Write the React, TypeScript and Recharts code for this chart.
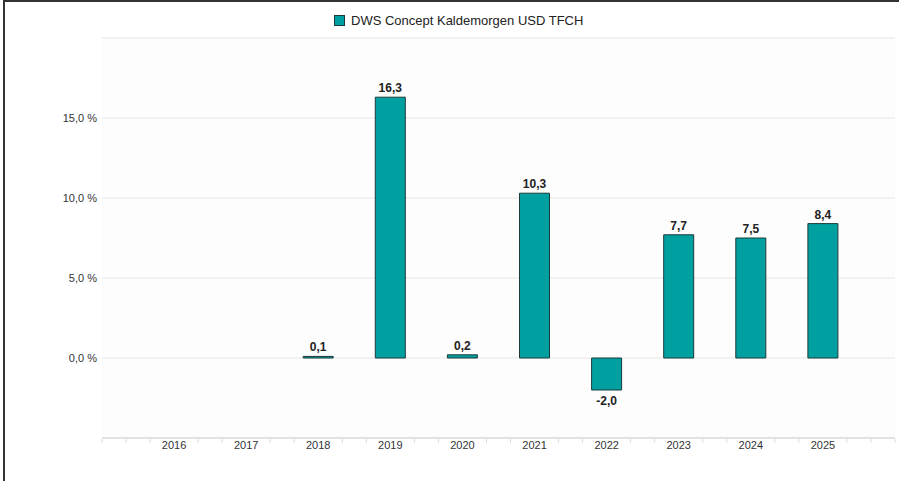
import { BarChart, Bar, XAxis, YAxis, CartesianGrid, Legend, LabelList } from "recharts";

const years = ["2016", "2017", "2018", "2019", "2020", "2021", "2022", "2023", "2024", "2025"];
const returns: (number | null)[] = [null, null, 0.1, 16.3, 0.2, 10.3, -2.0, 7.7, 7.5, 8.4];
const yTicks = [-5, 0, 5, 10, 15, 20];
// minor tick grid along the x axis, in thirds of a year band (year labels sit at 3, 6, ... 30)
const yearSlots = [3, 6, 9, 12, 15, 18, 21, 24, 27, 30];
const minorTicks = [0, 1, 2, 4, 5, 7, 8, 10, 11, 13, 14, 16, 17, 19, 20, 22, 23, 25, 26, 28, 29, 31, 32, 33];

const SERIES = "DWS Concept Kaldemorgen USD TFCH";
const TEAL = "#00a0a0";
const FONT = "'Liberation Sans', Arial, sans-serif";

const data = years.map((year, i) => ({ year, slot: yearSlots[i], value: returns[i] }));

const fmt = (v: number) => v.toFixed(1).replace(".", ",");

function ValueLabel(props: any) {
  const { x, y, width, height, value } = props;
  if (value === null || value === undefined) return null;
  const top = Math.min(y, y + height);
  const bottom = Math.max(y, y + height);
  const ty = value >= 0 ? top - 5 : bottom + 15;
  return (
    <text
      x={x + width / 2}
      y={ty}
      textAnchor="middle"
      fontSize={12}
      fontWeight="bold"
      fill="#222"
      fontFamily={FONT}
    >
      {fmt(value)}
    </text>
  );
}

function LegendBox() {
  return (
    <div style={{ display: "flex", alignItems: "center", height: 24, fontFamily: FONT, fontSize: 13, color: "#222" }}>
      <span
        style={{
          display: "inline-block",
          width: 9,
          height: 9,
          background: TEAL,
          border: "1px solid #1d3a3a",
          marginRight: 6,
        }}
      />
      {SERIES}
    </div>
  );
}

export default function App() {
  return (
    <div style={{ position: "absolute", left: 0, top: 0, width: 899, height: 481, background: "#fff", overflow: "hidden" }}>
      <div
        style={{
          position: "absolute",
          left: 3,
          top: 0,
          width: 900,
          height: 490,
          borderTop: "2px solid #333",
          borderLeft: "2px solid #333",
          pointerEvents: "none",
          zIndex: 2,
        }}
      />
      <BarChart
        width={899}
        height={481}
        data={data}
        margin={{ top: 14, right: 4, bottom: 0, left: 42 }}
        barSize={30}
      >
        <CartesianGrid vertical={false} stroke="#e6e6e6" fill="#fdfdfd" />
        <XAxis
          xAxisId="main"
          dataKey="year"
          height={1}
          padding={{ left: 36, right: 36 }}
          axisLine={{ stroke: "#e2e2e2", strokeWidth: 2 }}
          tickLine={false}
          tickSize={0}
          tickMargin={3}
          interval={0}
          tick={{ fontSize: 11, fill: "#333", fontFamily: FONT }}
        />
        <XAxis
          xAxisId="minor"
          dataKey="slot"
          type="number"
          domain={[0, 33]}
          ticks={minorTicks}
          interval={0}
          height={42}
          axisLine={false}
          tickSize={4}
          tickLine={{ stroke: "#dddddd" }}
          tickFormatter={() => ""}
          allowDataOverflow
        />
        <YAxis
          domain={[-5, 20]}
          ticks={yTicks}
          axisLine={false}
          tickLine={false}
          tickSize={0}
          tickMargin={5}
          width={60}
          tickFormatter={(v: number) => (v < 0 || v > 15 ? "" : `${fmt(v)} %`)}
          tick={{ fontSize: 11, fill: "#333", fontFamily: FONT }}
        />
        <Legend
          verticalAlign="top"
          content={() => <LegendBox />}
          wrapperStyle={{ top: 8, left: 334, width: "auto" }}
        />
        <Bar
          xAxisId="main"
          dataKey="value"
          name={SERIES}
          fill={TEAL}
          stroke="#1d3a3a"
          strokeWidth={1}
          isAnimationActive={false}
        >
          <LabelList dataKey="value" content={<ValueLabel />} />
        </Bar>
      </BarChart>
    </div>
  );
}
